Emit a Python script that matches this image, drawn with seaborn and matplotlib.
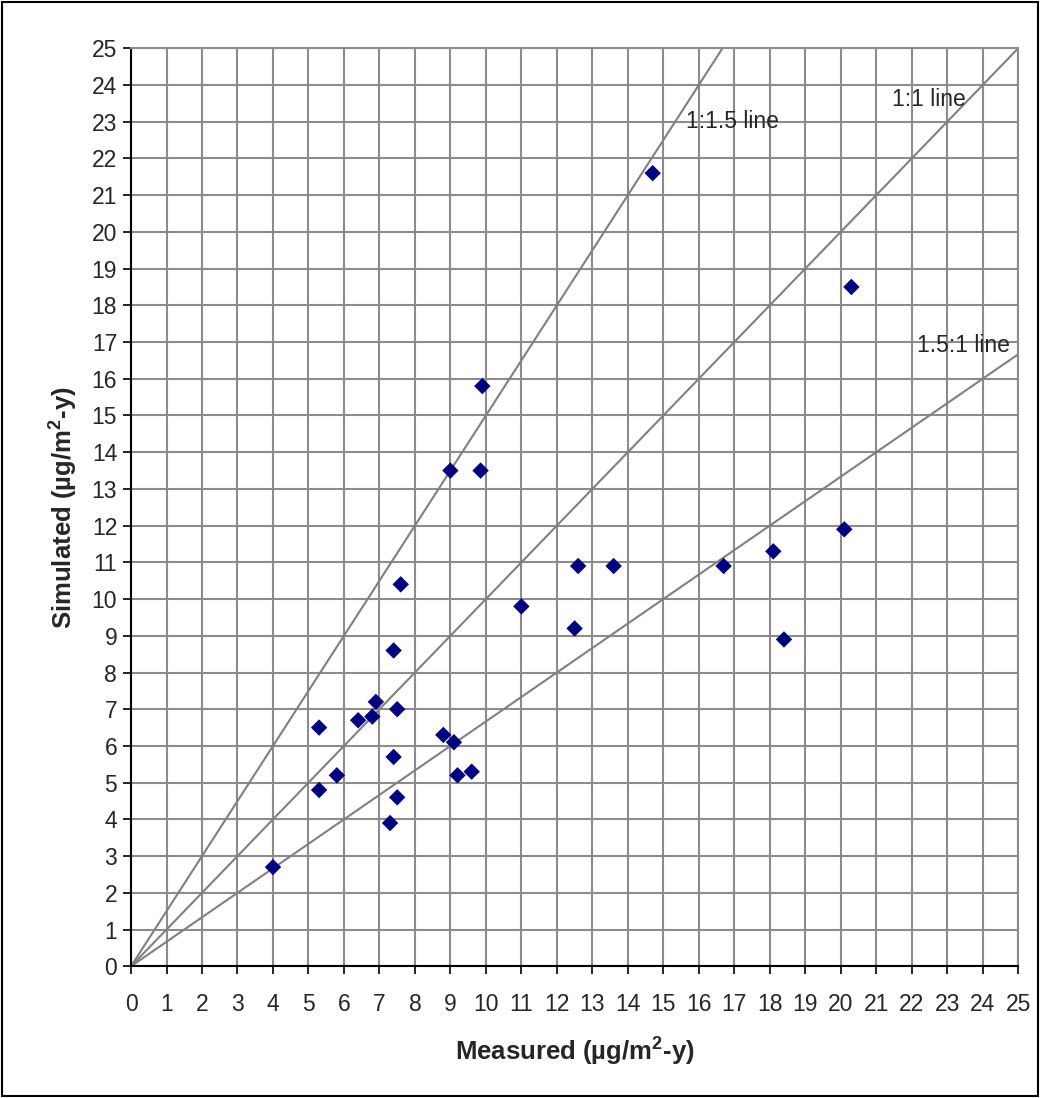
import numpy as np
import pandas as pd
import seaborn as sns
import matplotlib.pyplot as plt

# measured vs simulated deposition
measured = [4.0, 5.3, 5.3, 5.8, 6.4, 6.8, 6.9, 7.5, 7.4, 7.4, 7.5, 7.3, 8.8, 9.1, 9.2,
            9.6, 7.6, 9.0, 9.85, 9.9, 14.7, 11.0, 12.6, 12.5, 13.6, 16.7, 18.1, 18.4, 20.1, 20.3]
simulated = [2.7, 6.5, 4.8, 5.2, 6.7, 6.8, 7.2, 7.0, 8.6, 5.7, 4.6, 3.9, 6.3, 6.1, 5.2,
             5.3, 10.4, 13.5, 13.5, 15.8, 21.6, 9.8, 10.9, 9.2, 10.9, 10.9, 11.3, 8.9, 11.9, 18.5]

# reference lines: slope of simulated/measured
line_names = ["1:1.5 line", "1:1 line", "1.5:1 line"]
line_slopes = [1.5, 1.0, 1 / 1.5]
label_pos = [(15.65, 23.0), (21.45, 23.6), (22.15, 16.9)]

df = pd.DataFrame({"Measured": measured, "Simulated": simulated})

sns.set_style("white")
plt.rcParams['font.family'] = ['Liberation Sans', 'DejaVu Sans']
plt.rcParams['mathtext.fontset'] = 'custom'
plt.rcParams['mathtext.rm'] = 'Liberation Sans'
plt.rcParams['mathtext.bf'] = 'Liberation Sans:bold'

fig = plt.figure(figsize=(10.4, 10.98), dpi=100)
ax = fig.add_axes([0.126, 0.12, 0.853, 0.836])

ax.set_xlim(0, 25)
ax.set_ylim(0, 25)
ticks = np.arange(0, 26, 1)
ax.set_xticks(ticks)
ax.set_yticks(ticks)
ax.grid(True, color='#8c8c8c', linewidth=1.5)
ax.set_axisbelow(True)

for name, slope, (tx, ty) in zip(line_names, line_slopes, label_pos):
    xmax = min(25, 25 / slope)
    xs = np.array([0, xmax])
    ax.plot(xs, xs * slope, color='#808080', linewidth=1.5, zorder=2)
    ax.text(tx, ty, name, fontsize=16.5, va='center', ha='left', zorder=4)

sns.scatterplot(data=df, x="Measured", y="Simulated", marker='D', color='#000080',
                s=70, edgecolor='none', ax=ax, zorder=5, clip_on=False)

for side in ['left', 'bottom']:
    ax.spines[side].set_color('black')
    ax.spines[side].set_linewidth(1.5)
for side in ['top', 'right']:
    ax.spines[side].set_color('#8c8c8c')
    ax.spines[side].set_linewidth(1.5)

ax.tick_params(axis='both', direction='out', length=6, width=1.2, color='black',
               labelsize=16.5, bottom=True, left=True)
ax.tick_params(axis='x', pad=13)
ax.tick_params(axis='y', pad=4)

ax.set_xlabel(r"Measured (µg/m$^\mathbf{2}$-y)", fontsize=18.5, fontweight='bold', labelpad=13)
ax.set_ylabel(r"Simulated (µg/m$^\mathbf{2}$-y)", fontsize=18.5, fontweight='bold', labelpad=9)

# outer frame around the figure
fig.patches.append(plt.Rectangle((0.002, 0.002), 0.996, 0.996, transform=fig.transFigure,
                                 fill=False, edgecolor='black', linewidth=1.5))

fig.savefig("out.png", dpi=100)
